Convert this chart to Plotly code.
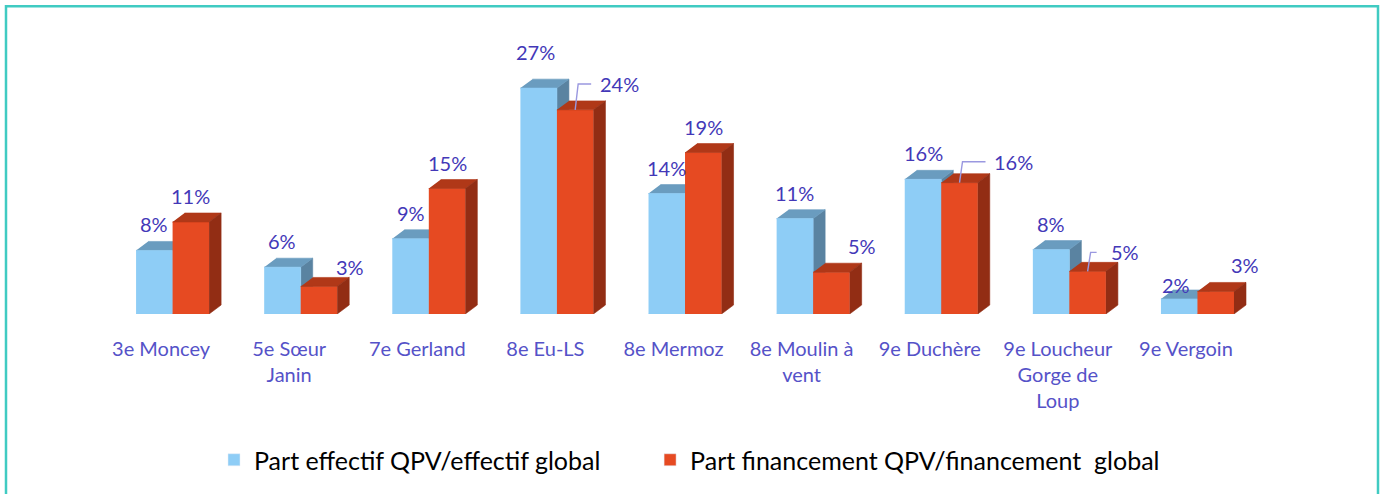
import plotly.graph_objects as go

# ---- data ----
categories = ["3e Moncey", "5e Sœur Janin", "7e Gerland", "8e Eu-LS", "8e Mermoz",
              "8e Moulin à vent", "9e Duchère", "9e Loucheur Gorge de Loup", "9e Vergoin"]
tick_labels = ["3e Moncey", "5e Sœur<br>Janin", "7e Gerland", "8e Eu-LS", "8e Mermoz",
               "8e Moulin à<br>vent", "9e Duchère", "9e Loucheur<br>Gorge de<br>Loup", "9e Vergoin"]
effectif = [7.6, 5.6, 9.0, 27.0, 14.4, 11.4, 16.1, 7.7, 1.8]
financement = [11.0, 3.3, 15.0, 24.4, 19.3, 5.0, 15.7, 5.1, 2.7]
name_eff = "Part effectif QPV/effectif global"
name_fin = "Part financement QPV/financement  global"

# ---- styles / geometry ----
W, H = 1382, 494
ML, MR, MT, MB = 97, 132, 63, 179
XR = [-0.5, 8.5]
YR = [0, 30]
PX_X = (W - ML - MR) / (XR[1] - XR[0])
PX_Y = (H - MT - MB) / (YR[1] - YR[0])
BW = 0.285           # bar width
OFF0 = -0.195        # left edge of first bar relative to category
DX = 12 / PX_X       # depth offset x
DY = 9 / PX_Y        # depth offset y

blue_front, blue_top, blue_side = "#8ecdf6", "#6a9cbf", "#5a83a1"
red_front, red_top, red_side = "#e64a22", "#b03818", "#922d14"
label_color = "#4338b8"
tick_color = "#5552c8"

# label offsets in px (dx right, dy down)
eff_dx = [0, 0, 0, -3, 0, 0, 0, 0, -3]
eff_dy = [0, 0, 0, -10, 0, 0, 0, 0, 12]
fin_dx = [0, 31, 0, 44, 0, 31, 54, 37, 29]
fin_dy = [0, 7, 0, 0, 0, 0, 5, 7, 0]
leader = [False, False, False, True, False, False, True, True, False]


def boxes(vals, x_left):
    front, top, side = [], [], []
    for i, v in enumerate(vals):
        x0 = i + x_left
        x1 = x0 + BW
        front += [(x0, 0), (x1, 0), (x1, v), (x0, v), None]
        top += [(x0, v), (x1, v), (x1 + DX, v + DY), (x0 + DX, v + DY), None]
        side += [(x1, 0), (x1 + DX, DY), (x1 + DX, v + DY), (x1, v), None]
    return front, top, side


def poly_trace(pts, color):
    xs = [p[0] if p else None for p in pts]
    ys = [p[1] if p else None for p in pts]
    return go.Scatter(x=xs, y=ys, mode="lines", fill="toself", fillcolor=color,
                      line=dict(color=color, width=0.6), hoverinfo="skip", showlegend=False)


bf, bt, bs = boxes(effectif, OFF0)
rf, rt, rs = boxes(financement, OFF0 + BW)

fig = go.Figure()
# legend-only entries
fig.add_trace(go.Bar(x=[None], y=[None], name=name_eff + "\u00a0" * 7,
                     marker_color=blue_front, hoverinfo="skip"))
fig.add_trace(go.Bar(x=[None], y=[None], name=name_fin, marker_color=red_front, hoverinfo="skip"))

for pts, col in [(bs, blue_side), (bt, blue_top), (bf, blue_front),
                 (rf, red_front), (rt, red_top), (rs, red_side)]:
    fig.add_trace(poly_trace(pts, col))

annotations = []
for i in range(len(categories)):
    for vals, off, dxs, dys in [(effectif, OFF0, eff_dx, eff_dy),
                                (financement, OFF0 + BW, fin_dx, fin_dy)]:
        v = vals[i]
        xc = i + off + BW / 2
        annotations.append(dict(
            x=xc, y=v + DY, xref="x", yref="y", text=f"{round(v)}%", showarrow=False,
            yanchor="middle", xanchor="center", xshift=dxs[i], yshift=17 - dys[i],
            font=dict(family="Lato", size=20, color=label_color)))

# leader lines (elbow) for moved labels
for i, v in enumerate(financement):
    if not leader[i]:
        continue
    xc = i + OFF0 + BW + BW / 2
    yl = v + DY + (17 - fin_dy[i]) / PX_Y
    xl = xc + (fin_dx[i] - 28) / PX_X
    fig.add_trace(go.Scatter(x=[xc, xc + 3 / PX_X, xl], y=[v, yl, yl], mode="lines",
                             line=dict(color="#9a98e0", width=1.4), hoverinfo="skip",
                             showlegend=False))

PW = W - ML - MR
PH = H - MT - MB
fig.update_layout(
    width=W, height=H,
    margin=dict(l=ML, r=MR, t=MT, b=MB),
    paper_bgcolor="white", plot_bgcolor="white",
    barmode="overlay",
    annotations=annotations,
    showlegend=True,
    legend=dict(orientation="h", x=(214 - ML) / PW, xanchor="left",
                y=-(460 - (H - MB)) / PH, yanchor="middle",
                font=dict(family="Lato", size=25, color="black"),
                itemwidth=30, bgcolor="rgba(0,0,0,0)"),
    xaxis=dict(range=XR, tickvals=list(range(len(categories))), ticktext=tick_labels,
               showgrid=False, zeroline=False, showline=False, ticks="outside", ticklen=17,
               tickcolor="rgba(0,0,0,0)", tickfont=dict(family="Lato", size=20, color=tick_color),
               fixedrange=True),
    yaxis=dict(range=YR, visible=False, fixedrange=True),
    shapes=[dict(type="rect", xref="paper", yref="paper",
                 x0=(6 - ML) / PW, x1=(1378 - ML) / PW,
                 y0=-1.5, y1=((H - MB) - 6) / PH,
                 line=dict(color="#40cbc2", width=2.5), fillcolor="rgba(0,0,0,0)", layer="below")],
)

fig.write_html("out.html", config={"displayModeBar": False},
               post_script="document.body.style.margin='0';")
